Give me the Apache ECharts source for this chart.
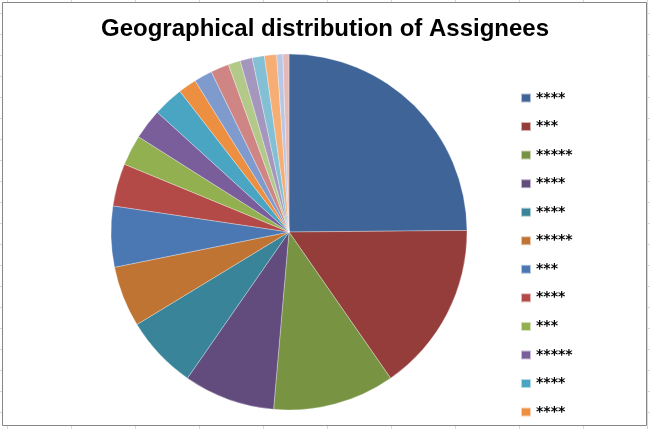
<!DOCTYPE html>
<html>
<head>
<meta charset="utf-8">
<script src="https://cdn.jsdelivr.net/npm/echarts@6/dist/echarts.min.js"></script>
<style>
  html, body { margin: 0; padding: 0; background: #ffffff; }
  #chart { width: 650px; height: 429px; }
</style>
</head>
<body>
<div id="chart"></div>
<script>
// ---- data ----
var titleText = 'Geographical distribution of Assignees';
var categories = ['****', '***', '*****', '****', '****', '*****', '***', '****', '***', '*****', '****', '****',
                  '****', '****', '****', '****', '****', '****', '****', '****'];
var values = [45, 28, 20, 15, 12, 10, 10, 7, 5, 5, 5, 3, 3, 3, 2, 2, 2, 2, 1, 1];
var legendCount = 12; // entries visible in the legend box

var palette = [
  '#3F6497', '#953D3B', '#789443', '#624C7E', '#3A8499', '#C07433',
  '#4B78B3', '#B44A47', '#93B050', '#7A5E9C', '#4AA5C2', '#EC8F40',
  '#7F9BCE', '#CF8583', '#B2C98A', '#A596BD', '#83C0D5', '#F6AE75',
  '#B9C7E4', '#E5B9B8'
];

var ids = categories.map(function (c, i) { return 'slice' + i; });
var labelOf = {};
ids.forEach(function (id, i) { labelOf[id] = categories[i]; });

var pieData = values.map(function (v, i) { return { name: ids[i], value: v }; });

// background Excel-like cell gridlines and chart frame
var graphics = [];
for (var gx = 7; gx < 650; gx += 64) {
  graphics.push({ type: 'line', shape: { x1: gx + 0.5, y1: 0, x2: gx + 0.5, y2: 429 },
    style: { stroke: '#D8D8D8', lineWidth: 1 }, silent: true });
}
for (var gy = 13; gy < 429; gy += 21) {
  graphics.push({ type: 'line', shape: { x1: 0, y1: gy + 0.5, x2: 650, y2: gy + 0.5 },
    style: { stroke: '#D8D8D8', lineWidth: 1 }, silent: true });
}
graphics.push({ type: 'rect', shape: { x: 2.5, y: 2.5, width: 644, height: 423 },
  style: { fill: '#ffffff', stroke: '#868686', lineWidth: 1 }, silent: true });

var chart = echarts.init(document.getElementById('chart'), null, { renderer: 'canvas' });
chart.setOption({
  animation: false,
  backgroundColor: '#ffffff',
  color: palette,
  graphic: { elements: graphics },
  title: {
    text: titleText,
    left: 'center',
    top: 12,
    textStyle: {
      fontFamily: 'Liberation Sans, Arial, sans-serif',
      fontSize: 24,
      fontWeight: 'bold',
      color: '#000000'
    }
  },
  legend: {
    orient: 'vertical',
    left: 520,
    top: 91,
    height: 380,
    padding: 0,
    itemWidth: 10,
    itemHeight: 9,
    itemGap: 14.55,
    icon: 'rect',
    selectedMode: false,
    data: ids.slice(0, legendCount),
    formatter: function (name) { return labelOf[name]; },
    textStyle: {
      fontFamily: 'DejaVu Sans, sans-serif',
      fontSize: 14,
      fontWeight: 'bold',
      color: '#000000'
    }
  },
  series: [{
    type: 'pie',
    center: [289, 232],
    radius: 178,
    startAngle: 90,
    clockwise: true,
    avoidLabelOverlap: false,
    label: { show: false },
    labelLine: { show: false },
    emphasis: { disabled: true },
    itemStyle: { borderColor: 'rgba(255,255,255,0.6)', borderWidth: 0.5 },
    data: pieData
  }]
});
</script>
</body>
</html>
